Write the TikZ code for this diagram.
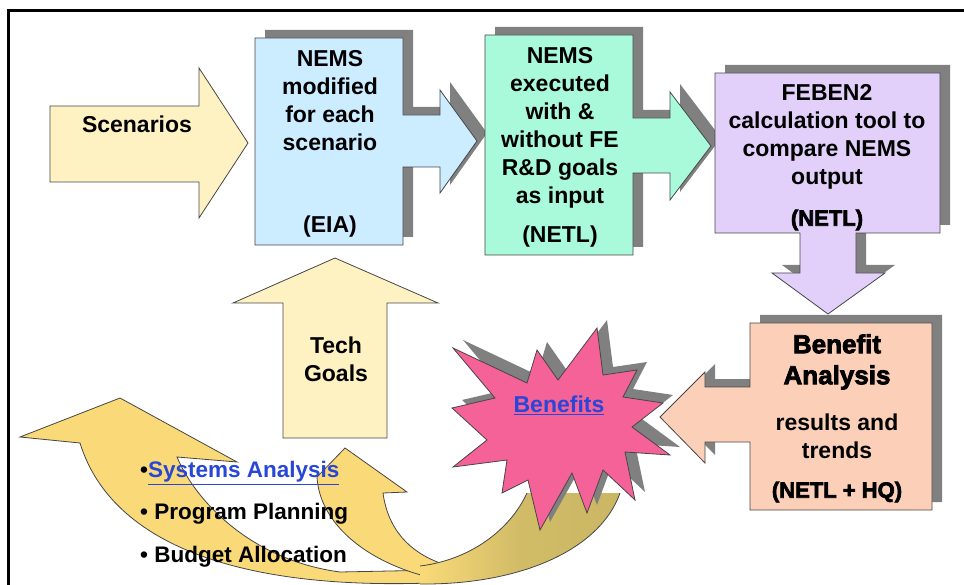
\documentclass[tikz,border=0pt]{standalone}
\usepackage{fontspec}
\setmainfont{Liberation Sans}
\newfontfamily\heavy{Liberation Sans Bold}[FakeBold=3]
\definecolor{scenyellow}{RGB}{255,242,194}
\definecolor{nemsblue}{RGB}{204,236,255}
\definecolor{netlgreen}{RGB}{168,250,218}
\definecolor{febenpurple}{RGB}{226,208,250}
\definecolor{benorange}{RGB}{252,208,184}
\definecolor{starpink}{RGB}{245,98,152}
\definecolor{curvegold}{RGB}{250,218,120}
\definecolor{curveolive}{RGB}{202,182,100}
\definecolor{shadowgray}{RGB}{128,128,128}
\definecolor{edgegray}{RGB}{70,70,70}
\definecolor{linkblue}{RGB}{40,70,215}
% outlines of the boxes with their arrows
\newcommand\shpEIA{(255,38) -- (403,38) -- (403,115) -- (440,115) -- (440,90) -- (477,141) -- (440,193) -- (440,167) -- (403,167) -- (403,245) -- (255,245) -- cycle}
\newcommand\shpNETL{(485,35) -- (633,35) -- (633,118) -- (670,118) -- (670,92) -- (711,146) -- (670,200) -- (670,173) -- (633,173) -- (633,255) -- (485,255) -- cycle}
\newcommand\shpFEBEN{(715,73) -- (940,73) -- (940,233) -- (856,233) -- (856,273) -- (885,273) -- (828,314) -- (772,273) -- (800,273) -- (800,233) -- (715,233) -- cycle}
\newcommand\shpBEN{(750,323) -- (932,323) -- (932,510) -- (750,510) -- (750,442) -- (705,442) -- (705,463) -- (660,417) -- (705,372) -- (705,387) -- (750,387) -- cycle}
\newcommand\shpStar{(597,328) -- (603,375) -- (637,370) -- (623,397) -- (663,403) -- (632,427) -- (670,455) -- (625,452) -- (635,500) -- (603,470) -- (587,513) -- (572,473) -- (540,530) -- (528,480) -- (502,493) -- (507,460) -- (453,467) -- (487,440) -- (452,408) -- (495,398) -- (453,348) -- (527,383) -- (537,350) -- (558,380) -- cycle}
\begin{document}
\begin{tikzpicture}[x=1pt,y=-1pt,
 lbl/.style={font=\fontsize{23}{28}\selectfont\bfseries,align=center,inner sep=0pt},
 hvy/.style={font=\fontsize{22}{28}\selectfont\heavy,align=center,inner sep=0pt},
 lst/.style={font=\fontsize{22.5}{28}\selectfont\bfseries,anchor=west,inner sep=0pt},
 shp/.style={draw=edgegray,line width=.8pt},
 shd/.style={fill=shadowgray,shift={(10,-8)}}]
 \useasboundingbox (0,0) rectangle (964,585);
 \draw[line width=3pt] (8.5,585) -- (8.5,11) -- (964,11);
 % input arrows
 \filldraw[shp,fill=scenyellow] (50,106) -- (199,106) -- (199,68) -- (248,143)
  -- (199,218) -- (199,182) -- (50,182) -- cycle;
 \filldraw[shp,fill=scenyellow] (283,438) -- (283,303) -- (233,303) -- (335,258)
  -- (438,303) -- (387,303) -- (387,438) -- cycle;
 % boxes with shadows
 \fill[shd] \shpEIA;   \filldraw[shp,fill=nemsblue] \shpEIA;
 \fill[shd] \shpNETL;  \filldraw[shp,fill=netlgreen] \shpNETL;
 \fill[shd] \shpFEBEN; \filldraw[shp,fill=febenpurple] \shpFEBEN;
 \fill[shd] \shpBEN;   \filldraw[shp,fill=benorange] \shpBEN;
 % curved arrows back to the programme
 \filldraw[shp,fill=curvegold] (20,437) -- (120,398) -- (237,462) -- (177,457)
  .. controls (195,500) and (250,560) .. (340,572) -- (440,570) -- (440,583)
  -- (430,583) .. controls (230,590) and (110,540) .. (80,443) -- cycle;
 \filldraw[shp,fill=curvegold] (345,448) -- (407,492) -- (383,493)
  .. controls (388,530) and (410,552) .. (440,563) -- (455,582)
  .. controls (380,572) and (320,530) .. (317,477) -- cycle;
 \shade[left color=curvegold,right color=curveolive,middle color=curveolive!85!curvegold]
  (620,493) .. controls (600,550) and (520,585) .. (420,584)
  -- (420,566) .. controls (470,560) and (510,530) .. (527,493) -- cycle;
 \draw[shp] (620,493) .. controls (600,550) and (520,585) .. (420,584);
 \draw[shp] (420,566) .. controls (470,560) and (510,530) .. (527,493);
 % starburst
 \fill[shd] \shpStar; \filldraw[shp,fill=starpink] \shpStar;
 \path
 (137,124) node[lbl] (scen) {Scenarios} % <<< left
 (330,101) node[lbl] (nems1) {NEMS\\modified\\for each\\scenario}
 (330,227) node[lbl] (eia) {(EIA)}
 (560,128) node[lbl] (nems2) {NEMS\\executed\\with \&\\without FE\\R\&D goals\\as input}
 (560,237) node[lbl] (netl1) {(NETL)}
 (827,137) node[lbl] (feben) {FEBEN2\\calculation tool to\\compare NEMS\\output}
 (827,220) node[hvy] (netl2) {(NETL)}
 (837,362) node[hvy,font=\fontsize{26}{31}\selectfont\heavy] (ben) {Benefit\\Analysis} % <<< right
 (837,436) node[lbl] (res) {results and\\trends}
 (837,492) node[hvy] (netl3) {(NETL + HQ)}
 (336,359) node[lbl] (tech) {Tech\\Goals}
 (559,405) node[lbl,text=linkblue] (bnf) {\underline{Benefits}}
 (140,473) node[lst] (sa) {•\textcolor{linkblue}{\underline{Systems Analysis}}} % <<< list
 (140,514) node[lst] (pp) {• Program Planning}
 (140,557) node[lst] (ba) {• Budget Allocation};
\end{tikzpicture}
\end{document}
